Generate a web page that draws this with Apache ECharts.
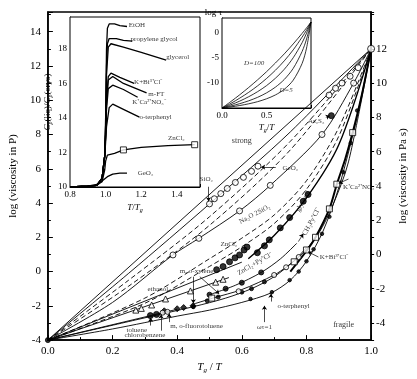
<!DOCTYPE html>
<html>
<head>
<meta charset="utf-8">
<script src="https://cdn.jsdelivr.net/npm/echarts@6/dist/echarts.min.js"></script>
<style>html,body{margin:0;padding:0;background:#fff}#chart{width:417px;height:379px}</style>
</head>
<body>
<div id="chart"></div>
<script>
// main panel: log viscosity (P) against Tg/T
var strongLine = [[0, -4], [1, 13]]
var sio2Line = [[0, -4], [0.25, -0.1], [0.5, 3.95], [0.75, 8.15], [1, 13]]
var dashA = [[0, -4], [0.25, -0.5], [0.5, 3.2], [0.75, 7.6], [1, 13]]
var dashB = [[0, -4], [0.25, -0.85], [0.5, 2.7], [0.75, 7.1], [1, 13]]
var na2oLine = [[0, -4], [0.2, -1.8], [0.387, 0.97], [0.467, 1.94], [0.593, 3.54], [0.688, 5.03], [0.848, 8.0], [0.946, 11.0], [1, 13]]
var zncl2DashA = [[0, -4], [0.3, -1.55], [0.5, 0.75], [0.6, 1.95], [0.7, 3.3], [0.8, 5.3], [0.9, 8.4], [1, 13]]
var zncl2DashB = [[0, -4], [0.3, -1.85], [0.5, 0.3], [0.6, 1.45], [0.7, 2.8], [0.8, 4.8], [0.9, 7.9], [1, 13]]
var glycLine = [[0.62, 0.75], [0.7, 2.1], [0.8, 4.3], [0.9, 7.4], [1, 13]]
var ch3pyLine = [[0.5, -1.35], [0.58, -0.8], [0.66, -0.05], [0.72, 0.75], [0.77, 1.65]]
var znpyLine = [[0, -4], [0.3, -2.7], [0.45, -2.05], [0.55, -1.55], [0.63, -1.0], [0.7, -0.3], [0.76, 0.6], [0.8, 1.4]]
var kbiLine = [[0.45, -1.9], [0.51, -1.55], [0.6, -1.05], [0.7, -0.2], [0.74, 0.3], [0.78, 0.9], [0.8, 1.3], [0.84, 2.3], [0.88, 3.8], [0.93, 6.4], [1, 13]]
var kcaLine = [[0.75, 0.0], [0.8, 1.2], [0.828, 2.0], [0.871, 3.66], [0.894, 5.1], [0.92, 6.57], [0.943, 8.11], [0.97, 10.2], [1, 13]]
var otpLine = [[0, -4], [0.2, -3.35], [0.4, -2.6], [0.5, -2.25], [0.6, -1.8], [0.69, -1.25], [0.75, -0.5], [0.8, 0.6], [0.85, 2.3], [0.9, 4.9], [0.95, 8.5], [1, 13]]
var orgTopLine = [[0, -4], [0.6, 0.55]]
var ethanolLine = [[0, -4], [0.56, -0.35]]
var tolLine = [[0, -4], [0.4, -2.2]]

var sio2Pts = [[0.5, 3.95], [0.515, 4.25], [0.535, 4.55], [0.555, 4.85], [0.58, 5.2], [0.605, 5.5], [0.63, 5.85], [0.65, 6.15], [0.87, 10.3], [0.89, 10.7], [0.91, 11.0], [0.935, 11.4], [0.96, 11.9]]
var na2oPts = [[0.387, 0.97], [0.467, 1.94], [0.593, 3.54], [0.688, 5.03], [0.848, 8.0], [0.946, 11.0]]
var zncl2Pts = [[0.522, 0.11], [0.542, 0.29], [0.562, 0.57], [0.579, 0.8], [0.593, 0.97], [0.607, 1.26], [0.616, 1.43]]
var glycPts = [[0.648, 1.1], [0.67, 1.5], [0.685, 1.85], [0.719, 2.55], [0.748, 3.15], [0.79, 4.1], [0.805, 4.5]]
var as2s3Pts = [[0.877, 9.1]]
var ch3pyPts = [[0.5, -1.35], [0.55, -1.0], [0.6, -0.65], [0.66, -0.05]]
var znpyPts = [[0.45, -2.05], [0.493, -1.71], [0.527, -1.49], [0.6, -1.2], [0.63, -1.0], [0.67, -0.6]]
var kbiCircles = [[0.59, -1.15], [0.7, -0.2], [0.737, 0.25], [0.776, 0.85]]
var kbiSquares = [[0.507, -1.55], [0.762, 0.57], [0.8, 1.26]]
var kcaSquares = [[0.828, 2.0], [0.871, 3.66], [0.894, 5.1], [0.943, 8.11]]
var otpDots = [[0.627, -1.6], [0.693, -1.2], [0.748, -0.5], [0.776, 0.0], [0.8, 0.6], [0.822, 1.3], [0.848, 2.2], [0.871, 3.2], [0.914, 5.8], [0.937, 7.5], [0.957, 9.4]]
var ethanolPts = [[0.272, -2.25], [0.289, -2.15], [0.321, -1.95], [0.364, -1.6], [0.441, -1.13], [0.519, -0.62], [0.542, -0.45]]
var toluenePts = [[0.317, -2.57], [0.336, -2.5]]
var xylenePts = [[0.36, -2.29], [0.4, -2.17], [0.42, -2.1], [0.449, -2.0]]
var chloroPts = [[0.355, -2.4], [0.37, -2.35]]
var endPts = [[1, 13]]
var startPts = [[0, -4]]

// inset 1: Cp(liq)/Cp(crys) against T/Tg
var cpEtOH = [[0.8, 10.0], [0.9, 10.05], [0.95, 10.1], [0.98, 10.5], [0.995, 11.8], [1.0, 14], [1.005, 18], [1.01, 19.2], [1.02, 19.45], [1.05, 19.45], [1.08, 19.35], [1.12, 19.3]]
var cpPG = [[0.8, 10.0], [0.9, 10.05], [0.95, 10.1], [0.98, 10.5], [0.995, 11.8], [1.0, 13.5], [1.005, 17], [1.01, 18.3], [1.02, 18.6], [1.06, 18.6], [1.1, 18.5], [1.15, 18.45]]
var cpGlycerol = [[0.8, 10.0], [0.9, 10.05], [0.95, 10.1], [0.98, 10.5], [0.995, 11.8], [1.0, 13.5], [1.005, 16.5], [1.015, 18.1], [1.03, 18.3], [1.1, 18.1], [1.2, 17.8], [1.34, 17.35]]
var cpKBi = [[0.8, 10.0], [0.9, 10.05], [0.95, 10.1], [0.98, 10.5], [0.995, 11.8], [1.0, 13], [1.005, 15], [1.015, 16.4], [1.03, 16.6], [1.08, 16.35], [1.16, 16.0]]
var cpMFT = [[0.8, 10.0], [0.9, 10.05], [0.95, 10.1], [0.98, 10.5], [0.995, 11.8], [1.0, 13], [1.005, 15], [1.015, 16.2], [1.04, 16.4], [1.1, 16.0], [1.23, 15.45]]
var cpKCa = [[0.8, 10.0], [0.9, 10.05], [0.95, 10.1], [0.98, 10.5], [0.995, 11.8], [1.0, 13], [1.005, 14.5], [1.015, 15.7], [1.04, 15.9], [1.1, 15.65], [1.18, 15.2]]
var cpOTP = [[0.8, 10.0], [0.9, 10.05], [0.95, 10.1], [0.98, 10.5], [0.995, 11.8], [1.0, 12.6], [1.005, 13.5], [1.02, 14.6], [1.04, 14.8], [1.1, 14.5], [1.19, 14.05]]
var cpZnCl2 = [[0.8, 10.0], [0.9, 10.05], [0.95, 10.1], [0.98, 10.3], [0.995, 11], [1.0, 11.5], [1.01, 11.85], [1.05, 11.95], [1.1, 12.15], [1.2, 12.3], [1.35, 12.4], [1.5, 12.45]]
var cpGeO2 = [[0.8, 10.0], [0.9, 10.05], [0.95, 10.15], [0.98, 10.35], [1.01, 10.6], [1.04, 10.75], [1.08, 10.8], [1.12, 10.8]]
var cpZnCl2Pts = [[1.1, 12.15], [1.5, 12.45]]

// inset 2: log tau against Tg/T for several D
var tauX = [0, 0.1, 0.2, 0.3, 0.4, 0.5, 0.6, 0.7, 0.8, 0.9, 0.95, 1]
var tauD100 = [-15, -13.72, -12.37, -10.94, -9.43, -7.83, -6.10, -4.29, -2.33, -0.25, 0.85, 2]
var tauD40 = [-15, -14.08, -13.04, -11.90, -10.62, -9.17, -7.54, -5.67, -3.51, -0.98, 0.4, 2]
var tauD20 = [-15, -14.36, -13.63, -12.77, -11.77, -10.58, -9.12, -7.34, -5.07, -2.08, -0.2, 2]
var tauD10 = [-15, -14.61, -14.14, -13.58, -12.89, -12.01, -10.88, -9.35, -7.17, -3.82, -1.36, 2]
var tauD5 = [-15, -14.78, -14.51, -14.17, -13.75, -13.18, -12.42, -11.30, -9.50, -6.19, -3.14, 2]

var FONT = 'Liberation Serif'
var chart = echarts.init(document.getElementById('chart'))

function line (data, o) {
  o = o || {}
  return {
    type: 'line', data: data, xAxisIndex: o.g || 0, yAxisIndex: o.y || 0,
    symbol: 'none', smooth: o.smooth || false, silent: true, z: 3,
    lineStyle: { color: '#000', width: o.w || 0.9, type: o.dash ? [5, 3] : 'solid' }
  }
}
function pts (data, sym, filled, size, o) {
  o = o || {}
  return {
    type: 'scatter', data: data, xAxisIndex: o.g || 0, yAxisIndex: o.y || 0,
    symbol: sym, symbolSize: size, silent: true, z: 4,
    itemStyle: { color: filled ? '#000' : '#fff', borderColor: '#000', borderWidth: 1 }
  }
}
function pair (xs, ys) {
  return xs.map(function (x, i) { return [x, ys[i]] })
}

var rich = {
  i: { fontFamily: FONT, fontStyle: 'italic', fontSize: 11, color: '#000' },
  s: { fontFamily: FONT, fontStyle: 'italic', fontSize: 7, color: '#000', padding: [6, 0, 0, 0] },
  n: { fontFamily: FONT, fontSize: 11, color: '#000' },
  ii: { fontFamily: FONT, fontStyle: 'italic', fontSize: 9, color: '#000' },
  ss: { fontFamily: FONT, fontStyle: 'italic', fontSize: 6, color: '#000', padding: [5, 0, 0, 0] },
  nn: { fontFamily: FONT, fontSize: 9, color: '#000' }
}

// text notes on the main panel (data coords)
var notes = [
  ['strong', 0.6, 7.6, 0, 8],
  ['fragile', 0.915, -3.1, 0, 8],
  ['SiO₂', 0.49, 5.4, 0, 7],
  ['GeO₂', 0.75, 6.05, 0, 7],
  ['As₂S₃', 0.83, 8.8, 0, 7],
  ['Na₂O 2SiO₂', 0.64, 3.35, 28, 7],
  ['ZnCl₂', 0.56, 1.6, 0, 7],
  ['glycerol', 0.79, 4.1, 62, 7],
  ['CH₃Py⁺Cl⁻', 0.815, 2.9, 62, 7],
  ['ZnCl₂+Py⁺Cl⁻', 0.64, 0.45, 30, 7],
  ['K+Bi³⁺Cl⁻', 0.885, 0.85, 0, 7],
  ['K⁺Ca²⁺NO₃⁻', 0.965, 4.95, 0, 7],
  ['o-terphenyl', 0.76, -2.0, 0, 7],
  ['ωτ=1', 0.67, -3.25, 0, 7],
  ['ethanol', 0.34, -1.0, 0, 7],
  ['m, o-xylene', 0.46, 0.0, 0, 7],
  ['toluene', 0.275, -3.4, 0, 7],
  ['chlorobenzene', 0.3, -3.7, 0, 7],
  ['m, o-fluorotoluene', 0.46, -3.2, 0, 7]
]
var arrows = [
  [[0.497, 4.95], [0.497, 4.1]],
  [[0.705, 6.1], [0.66, 6.1]],
  [[0.86, 9.0], [0.872, 9.1]],
  [[0.837, 0.85], [0.805, 1.15]],
  [[0.93, 5.4], [0.9, 5.15]],
  [[0.69, -1.75], [0.69, -1.3]],
  [[0.67, -2.95], [0.67, -2.0]],
  [[0.45, -0.3], [0.45, -1.85]],
  [[0.47, -0.3], [0.53, -1.3]],
  [[0.318, -3.15], [0.318, -2.7]],
  [[0.35, -3.45], [0.35, -2.5]],
  [[0.375, -2.95], [0.375, -2.45]],
  [[0.775, 1.75], [0.79, 2.2]]
]
var noteSeries = {
  type: 'scatter', xAxisIndex: 0, yAxisIndex: 0, symbolSize: 0, silent: true, z: 6,
  data: notes.map(function (n) {
    return { value: [n[1], n[2]], label: { show: true, formatter: n[0], rotate: n[3], fontSize: n[4], fontFamily: FONT, color: '#000', position: 'inside' } }
  }),
  markLine: {
    silent: true, symbol: ['none', 'arrow'], symbolSize: 4, animation: false,
    lineStyle: { color: '#000', width: 0.7, type: 'solid' }, label: { show: false },
    data: arrows.map(function (a) { return [{ coord: a[0] }, { coord: a[1] }] })
  }
}

var cpNotes = [
  ['EtOH', 1.13, 19.35], ['propylene glycol', 1.14, 18.55], ['glycerol', 1.34, 17.5],
  ['K+Bi³⁺Cl⁻', 1.16, 16.1], ['m-FT', 1.24, 15.4], ['K⁺Ca²⁺NO₃⁻', 1.15, 14.9],
  ['o-terphenyl', 1.19, 14.05], ['ZnCl₂', 1.35, 12.85], ['GeO₂', 1.18, 10.8]
]
var cpNoteSeries = {
  type: 'scatter', xAxisIndex: 1, yAxisIndex: 2, symbolSize: 0, silent: true, z: 6,
  data: cpNotes.map(function (n) {
    return { value: [n[1], n[2]], label: { show: true, formatter: n[0], fontSize: 7, fontFamily: FONT, color: '#000', position: 'right', distance: 0 } }
  })
}
var tauNotes = [['D=100', 0.36, -6.2], ['D=5', 0.72, -11.4]]
var tauNoteSeries = {
  type: 'scatter', xAxisIndex: 2, yAxisIndex: 3, symbolSize: 0, silent: true, z: 6,
  data: tauNotes.map(function (n) {
    return { value: [n[1], n[2]], label: { show: true, formatter: n[0], fontSize: 7, fontStyle: 'italic', fontFamily: FONT, color: '#000', position: 'inside' } }
  })
}

var axisText = { fontFamily: FONT, color: '#000' }
function evenLabel (lo, hi, off) {
  return function (v) {
    var r = Math.round(v)
    if (Math.abs(v - r) > 1e-6) return ''
    var t = r - off
    return (t % 2 === 0 && r >= lo && r <= hi) ? String(t) : ''
  }
}

var option = {
  animation: false,
  backgroundColor: '#fff',
  grid: [
    { left: 36, right: 31, top: 12, bottom: 32, show: true, borderColor: '#000', borderWidth: 1.5, backgroundColor: 'transparent' },
    { left: 70, top: 17, width: 130, height: 170, show: true, borderColor: '#000', borderWidth: 1, backgroundColor: '#fff', z: 2 },
    { left: 222, top: 18, width: 89, height: 90, show: true, borderColor: '#000', borderWidth: 1, backgroundColor: '#fff', z: 2 }
  ],
  xAxis: [
    {
      gridIndex: 0, type: 'value', min: 0, max: 1, interval: 0.2,
      axisLine: { onZero: false, lineStyle: { color: '#000', width: 1.5 } },
      axisTick: { inside: true, length: 5, lineStyle: { color: '#000' } },
      minorTick: { show: true, splitNumber: 2, length: 3, lineStyle: { color: '#000' } },
      splitLine: { show: false },
      axisLabel: Object.assign({ fontSize: 11, margin: 6, formatter: function (v) { return v.toFixed(1) } }, axisText),
      name: '{i|T}{s|g}{n| / }{i|T}', nameLocation: 'middle', nameGap: 18,
      nameTextStyle: { rich: rich }
    },
    {
      gridIndex: 1, type: 'value', min: 0.8, max: 1.53, interval: 0.2,
      axisLine: { onZero: false, lineStyle: { color: '#000' } },
      axisTick: { inside: true, length: 3, lineStyle: { color: '#000' } },
      splitLine: { show: false },
      axisLabel: Object.assign({ fontSize: 9, margin: 3, formatter: function (v) { return v < 1.45 ? v.toFixed(1) : '' } }, axisText),
      name: '{ii|T}{nn|/}{ii|T}{ss|g}', nameLocation: 'middle', nameGap: 15,
      nameTextStyle: { rich: rich }
    },
    {
      gridIndex: 2, type: 'value', min: 0, max: 1, interval: 0.5,
      axisLine: { onZero: false, lineStyle: { color: '#000' } },
      axisTick: { inside: true, length: 3, lineStyle: { color: '#000' } },
      splitLine: { show: false },
      axisLabel: Object.assign({ fontSize: 9, margin: 3, formatter: function (v) { return v < 0.9 ? v.toFixed(1) : '' } }, axisText),
      name: '{ii|T}{ss|g}{nn|/}{ii|T}', nameLocation: 'middle', nameGap: 14,
      nameTextStyle: { rich: rich }
    }
  ],
  yAxis: [
    {
      gridIndex: 0, type: 'value', min: -4, max: 15.15, interval: 2,
      axisLine: { onZero: false, lineStyle: { color: '#000', width: 1.5 } },
      axisTick: { inside: true, length: 5, lineStyle: { color: '#000' } },
      minorTick: { show: true, splitNumber: 2, length: 3, lineStyle: { color: '#000' } },
      splitLine: { show: false },
      axisLabel: Object.assign({ fontSize: 11, margin: 7, formatter: evenLabel(-4, 14, 0) }, axisText),
      name: 'log (viscosity in P)', nameLocation: 'middle', nameGap: 23,
      nameTextStyle: { fontFamily: FONT, fontSize: 11, color: '#000' }
    },
    {
      gridIndex: 0, type: 'value', position: 'right', min: -4, max: 15.15, interval: 1,
      axisLine: { show: true, onZero: false, lineStyle: { color: '#000', width: 1.5 } },
      axisTick: { inside: false, length: 3, lineStyle: { color: '#000' } },
      splitLine: { show: false },
      axisLabel: Object.assign({ fontSize: 11, margin: 5, formatter: evenLabel(-3, 13, 1) }, axisText),
      name: 'log (viscosity in Pa s)', nameLocation: 'middle', nameGap: 20, nameRotate: 90,
      nameTextStyle: { fontFamily: FONT, fontSize: 11, color: '#000' }
    },
    {
      gridIndex: 1, type: 'value', min: 10, max: 19.85, interval: 2,
      axisLine: { onZero: false, lineStyle: { color: '#000' } },
      axisTick: { inside: true, length: 3, lineStyle: { color: '#000' } },
      minorTick: { show: true, splitNumber: 2, length: 2, lineStyle: { color: '#000' } },
      splitLine: { show: false },
      axisLabel: Object.assign({ fontSize: 9, margin: 3, formatter: evenLabel(10, 18, 0) }, axisText),
      name: '{ii|C}{ss|p}{nn|(liq)/}{ii|C}{ss|p}{nn|(crys)}', nameLocation: 'middle', nameGap: 17,
      nameTextStyle: { rich: rich }
    },
    {
      gridIndex: 2, type: 'value', min: -15, max: 2.8, interval: 5,
      axisLine: { onZero: false, lineStyle: { color: '#000' } },
      axisTick: { inside: true, length: 3, lineStyle: { color: '#000' } },
      splitLine: { show: false },
      axisLabel: Object.assign({ fontSize: 9, margin: 3, formatter: function (v) { return (v >= -10 && v <= 0) ? String(v) : '' } }, axisText),
      name: 'log τ', nameLocation: 'end', nameGap: 1,
      nameTextStyle: { fontFamily: FONT, fontSize: 9, color: '#000', align: 'right' }
    }
  ],
  series: [
    line(strongLine),
    line(sio2Line, { smooth: 0.3 }),
    line(dashA, { smooth: 0.3, dash: true }),
    line(dashB, { smooth: 0.3, dash: true }),
    line(na2oLine, { smooth: 0.3 }),
    line(zncl2DashA, { smooth: 0.3, dash: true }),
    line(zncl2DashB, { smooth: 0.3, dash: true }),
    line(glycLine, { smooth: 0.3, w: 1.4 }),
    line(ch3pyLine, { smooth: 0.3 }),
    line(znpyLine, { smooth: 0.3 }),
    line(kbiLine, { smooth: 0.3 }),
    line(kcaLine, { smooth: 0.3, w: 2 }),
    line(otpLine, { smooth: 0.3 }),
    line(orgTopLine),
    line(ethanolLine),
    line(tolLine),
    pts(sio2Pts, 'circle', false, 6),
    pts(na2oPts, 'circle', false, 6),
    pts(zncl2Pts, 'circle', true, 6),
    pts(glycPts, 'circle', true, 6),
    pts(as2s3Pts, 'circle', true, 6),
    pts(ch3pyPts, 'circle', true, 5),
    pts(znpyPts, 'circle', true, 4),
    pts(kbiCircles, 'circle', false, 5),
    pts(kbiSquares, 'rect', false, 6),
    pts(kcaSquares, 'rect', false, 6),
    pts(otpDots, 'circle', true, 3.5),
    pts(ethanolPts, 'triangle', false, 6),
    pts(toluenePts, 'circle', true, 6),
    pts(xylenePts, 'diamond', true, 6),
    pts(chloroPts, 'circle', false, 5),
    pts(endPts, 'circle', false, 7),
    pts(startPts, 'circle', true, 5),
    noteSeries,
    line(cpEtOH, { g: 1, y: 2, w: 1.3 }),
    line(cpPG, { g: 1, y: 2, w: 1.3 }),
    line(cpGlycerol, { g: 1, y: 2, w: 1.3 }),
    line(cpKBi, { g: 1, y: 2, w: 1.3 }),
    line(cpMFT, { g: 1, y: 2, w: 1.3 }),
    line(cpKCa, { g: 1, y: 2, w: 1.3 }),
    line(cpOTP, { g: 1, y: 2, w: 1.3 }),
    line(cpZnCl2, { g: 1, y: 2, w: 1.3 }),
    line(cpGeO2, { g: 1, y: 2, w: 1.3 }),
    pts(cpZnCl2Pts, 'rect', false, 6, { g: 1, y: 2 }),
    cpNoteSeries,
    line(pair(tauX, tauD100), { g: 2, y: 3, smooth: 0.3, w: 0.8 }),
    line(pair(tauX, tauD40), { g: 2, y: 3, smooth: 0.3, w: 0.8 }),
    line(pair(tauX, tauD20), { g: 2, y: 3, smooth: 0.3, w: 0.8 }),
    line(pair(tauX, tauD10), { g: 2, y: 3, smooth: 0.3, w: 0.8 }),
    line(pair(tauX, tauD5), { g: 2, y: 3, smooth: 0.3, w: 0.8 }),
    tauNoteSeries
  ]
}
chart.setOption(option)
</script>
</body>
</html>
